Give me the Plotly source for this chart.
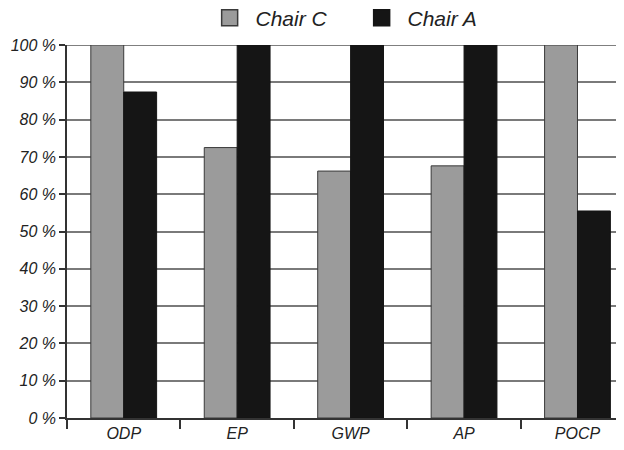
import plotly.graph_objects as go

categories = ["ODP", "EP", "GWP", "AP", "POCP"]
chair_c = [100, 72.5, 66.2, 67.6, 100]
chair_a = [87.4, 100, 100, 100, 55.5]
y_ticks = [0, 10, 20, 30, 40, 50, 60, 70, 80, 90, 100]

FAM = "Liberation Sans, Arial, sans-serif"
font_it = dict(family=FAM, size=16, color="#222222", style="italic")
gray = "#9b9b9b"
black = "#151515"

fig = go.Figure()
fig.add_trace(go.Bar(name="Chair C", x=categories, y=chair_c, showlegend=False,
                     marker=dict(color=gray, line=dict(color="#3a3a3a", width=1))))
fig.add_trace(go.Bar(name="Chair A", x=categories, y=chair_a, showlegend=False,
                     marker=dict(color=black, line=dict(color=black, width=1))))
# legend entries with larger square swatches
fig.add_trace(go.Scatter(name=" Chair C", x=[None], y=[None], mode="markers",
                         marker=dict(symbol="square", size=16, color=gray,
                                     line=dict(color="#3a3a3a", width=1.5))))
fig.add_trace(go.Scatter(name=" Chair A", x=[None], y=[None], mode="markers",
                         marker=dict(symbol="square", size=16, color=black,
                                     line=dict(color=black, width=1.5))))

fig.update_layout(
    width=616, height=442,
    margin=dict(l=59, r=0, t=37, b=32, autoexpand=False),
    paper_bgcolor="white", plot_bgcolor="white",
    barmode="group", bargap=0.42, bargroupgap=0,
    font=font_it,
    showlegend=True,
    legend=dict(orientation="h", x=0.529, xanchor="center", y=1.072, yanchor="middle",
                bgcolor="rgba(0,0,0,0)",
                font=dict(family=FAM, size=21, color="#222222", style="italic"),
                entrywidth=107, itemsizing="trace"),
    xaxis=dict(type="category", range=[-0.5, 4.41], tickson="boundaries",
               ticks="outside", ticklen=9, tickwidth=1.5, tickcolor="#333333",
               showline=True, linecolor="#333333", linewidth=1.5,
               showgrid=False, tickfont=dict(family=FAM, size=16, color="#222222", style="italic")),
    yaxis=dict(range=[0, 100], tickvals=y_ticks, ticktext=[f"{v} %" for v in y_ticks],
               ticks="outside", ticklen=6, tickwidth=1.5, tickcolor="#333333",
               showline=True, linecolor="#333333", linewidth=1.5,
               showgrid=True, gridcolor="#7a7a7a", gridwidth=1.5,
               zeroline=False, tickfont=font_it),
)
fig.add_hline(y=100, line=dict(color="#555555", width=1.5), layer="below")

fig.write_html("out.html")
